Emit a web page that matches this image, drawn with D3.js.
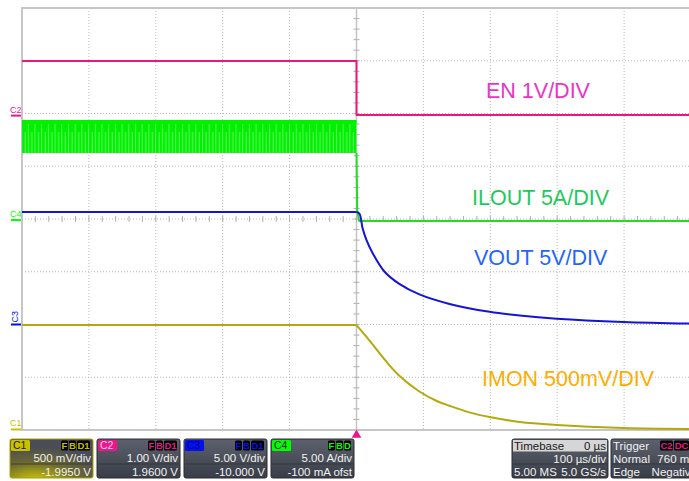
<!DOCTYPE html>
<html>
<head>
<meta charset="utf-8">
<script src="https://cdn.jsdelivr.net/npm/d3@7"></script>
<style>
  body { margin: 0; background: #fff; }
  svg { display: block; font-family: "Liberation Sans", Arial, sans-serif; }
</style>
</head>
<body>
<svg width="689" height="481"></svg>
<script>
// timebase: 100 us/div, trigger at 0
const timeDomain = [-500, 500]

// EN (C2), volts
const enTime = [-500, 0, 0, 500]
const enValue = [1.035, 1.035, 0.01, 0.01]

// ILOUT (C4), amps: ripple envelope before turn-off, trace after
const iloutBandTime = [-500, 0]
const iloutBandHigh = [9.48, 9.48]
const iloutBandLow = [6.36, 6.36]
const iloutTime = [0, 1, 4, 500]
const iloutValue = [6.36, 0.95, -0.1, -0.1]

// VOUT (C3), volts
const voutTime = [-500, 0, 4.5, 9, 15, 24, 42, 64, 94, 139, 199, 244, 299, 399, 500]
const voutValue = [10.66, 10.66, 10.5, 9.15, 8.0, 6.78, 5.0, 3.85, 2.85, 1.95, 1.2, 0.85, 0.55, 0.24, 0.08]

// IMON (C1), volts
const imonTime = [-500, 0, 15, 45, 64, 94, 120, 139, 170, 199, 244, 299, 399, 500]
const imonValue = [0.99, 0.99, 0.877, 0.64, 0.51, 0.36, 0.27, 0.225, 0.16, 0.118, 0.071, 0.043, 0.014, 0.005]

// channel settings
const channelNames = ['C1', 'C2', 'C3', 'C4']
const channelScale = [0.5, 1, 5, 5]
const channelOffset = [-1.995, 1.96, -10, -0.1]
const channelScaleText = ['500 mV/div', '1.00 V/div', '5.00 V/div', '5.00 A/div']
const channelOffsetText = ['-1.9950 V', '1.9600 V', '-10.000 V', '-100 mA ofst']
const channelTags = [['F', 'B', 'D1'], ['F', 'B', 'D1'], ['F', 'B', 'D1'], ['F', 'B', 'D']]

const traceLabels = ['EN 1V/DIV', 'ILOUT 5A/DIV', 'VOUT 5V/DIV', 'IMON 500mV/DIV']

const timebaseText = [['Timebase', '0 µs'], ['', '100 µs/div'], ['5.00 MS', '5.0 GS/s']]
const triggerText = [['Trigger', ''], ['Normal', '760 mV'], ['Edge', 'Negative']]

const traceColor = ['#b3a90c', '#e8187c', '#1414d8', '#22dd22']
const tagColor = ['#c9c100', '#e8188a', '#0010ee', '#00ff00']
const labelColor = ['#e835c8', '#1ec95a', '#1e66ff', '#fbae00']

const svg = d3.select('svg')
const plot = {left: 22, right: 691, top: 8, bottom: 430}
const divX = (plot.right - plot.left) / 10
const divY = (plot.bottom - plot.top) / 8
const cx = plot.left + 5 * divX
const cy = plot.top + 4 * divY

const x = d3.scaleLinear().domain(timeDomain).range([plot.left, plot.right])
const yScales = channelNames.map((c, i) => d3.scaleLinear()
  .domain([-4 * channelScale[i] - channelOffset[i], 4 * channelScale[i] - channelOffset[i]])
  .range([plot.bottom, plot.top]))
const yIMON = yScales[0], yEN = yScales[1], yVOUT = yScales[2], yILOUT = yScales[3]

const defs = svg.append('defs')
const stripe = defs.append('pattern')
  .attr('id', 'ripple').attr('patternUnits', 'userSpaceOnUse')
  .attr('width', 6.7).attr('height', 40)
stripe.append('rect').attr('width', 6.7).attr('height', 40).attr('fill', '#00f000')
stripe.append('rect').attr('x', 1.2).attr('y', 4).attr('width', 0.8).attr('height', 30).attr('fill', '#8ef28e').attr('opacity', 0.8)
stripe.append('rect').attr('x', 4.6).attr('y', 12).attr('width', 0.8).attr('height', 22).attr('fill', '#b0f5b0').attr('opacity', 0.7)

const boxGrad = defs.append('linearGradient').attr('id', 'boxbg').attr('x1', 0).attr('y1', 0).attr('x2', 0).attr('y2', 1)
boxGrad.append('stop').attr('offset', 0).attr('stop-color', '#5d616d')
boxGrad.append('stop').attr('offset', 1).attr('stop-color', '#393d47')
const selGrad = defs.append('radialGradient').attr('id', 'selbg').attr('cx', 0.3).attr('cy', 1.1).attr('r', 0.9)
selGrad.append('stop').attr('offset', 0).attr('stop-color', '#d8d000')
selGrad.append('stop').attr('offset', 0.55).attr('stop-color', '#6e6b30')
selGrad.append('stop').attr('offset', 1).attr('stop-color', '#4a4d55')

// grid
const grid = svg.append('g')
grid.selectAll('line.v').data(d3.range(1, 10)).enter().append('line')
  .attr('x1', d => plot.left + d * divX).attr('x2', d => plot.left + d * divX)
  .attr('y1', plot.top).attr('y2', plot.bottom)
  .attr('stroke', '#b8b8b8').attr('stroke-dasharray', '1,2')
grid.selectAll('line.h').data(d3.range(1, 8)).enter().append('line')
  .attr('y1', d => plot.top + d * divY).attr('y2', d => plot.top + d * divY)
  .attr('x1', plot.left).attr('x2', plot.right)
  .attr('stroke', '#b8b8b8').attr('stroke-dasharray', '1,2')

// centre axes with minor ticks
grid.append('line').attr('x1', cx).attr('x2', cx).attr('y1', plot.top).attr('y2', plot.bottom)
  .attr('stroke', '#c4c4c4').attr('stroke-width', 1.5)
grid.selectAll('line.tv').data(d3.range(0, 41)).enter().append('line')
  .attr('x1', cx - 3).attr('x2', cx + 3)
  .attr('y1', d => plot.top + d * divY / 5).attr('y2', d => plot.top + d * divY / 5)
  .attr('stroke', '#b0b0b0')
grid.selectAll('line.th').data(d3.range(0, 51)).enter().append('line')
  .attr('y1', cy - 3).attr('y2', cy + 3)
  .attr('x1', d => plot.left + d * divX / 5).attr('x2', d => plot.left + d * divX / 5)
  .attr('stroke', '#b0b0b0')

// border
svg.append('rect').attr('x', plot.left).attr('y', plot.top)
  .attr('width', plot.right - plot.left).attr('height', plot.bottom - plot.top)
  .attr('fill', 'none').attr('stroke', '#c6c6c6').attr('stroke-width', 2)

// traces
const traces = svg.append('g').attr('fill', 'none').attr('stroke-width', 2).attr('stroke-linejoin', 'round')

const band = d3.area()
  .x((d, i) => x(iloutBandTime[i]))
  .y0((d, i) => yILOUT(iloutBandLow[i]))
  .y1((d, i) => yILOUT(iloutBandHigh[i]))
traces.append('path').datum(iloutBandTime).attr('d', band).attr('fill', 'url(#ripple)').attr('stroke', 'none')

// flat part drawn straight, the decay after the trigger drawn smooth
function drawTrace (times, values, yScale, color, smooth) {
  const pts = times.map((t, i) => [t, values[i]])
  const straight = d3.line().x(d => x(d[0])).y(d => yScale(d[1]))
  if (!smooth) {
    traces.append('path').datum(pts).attr('d', straight).attr('stroke', color)
    return
  }
  const curved = d3.line().x(d => x(d[0])).y(d => yScale(d[1])).curve(d3.curveCatmullRom.alpha(0.5))
  traces.append('path').datum(pts.filter(d => d[0] <= 0)).attr('d', straight).attr('stroke', color)
  traces.append('path').datum(pts.filter(d => d[0] >= 0)).attr('d', curved).attr('stroke', color)
}
drawTrace(iloutTime, iloutValue, yILOUT, traceColor[3], false)
drawTrace(enTime, enValue, yEN, traceColor[1], false)
drawTrace(voutTime, voutValue, yVOUT, traceColor[2], true)
drawTrace(imonTime, imonValue, yIMON, traceColor[0], true)

// trace labels
const labelPos = [[486, 98], [472, 205], [474, 265], [482, 386]]
svg.append('g').selectAll('text').data(traceLabels).enter().append('text')
  .attr('x', (d, i) => labelPos[i][0]).attr('y', (d, i) => labelPos[i][1])
  .attr('font-size', 21.5).attr('fill', (d, i) => labelColor[i])
  .text(d => d)

// ground markers on the left edge
const markers = svg.append('g')
channelNames.forEach((c, i) => {
  const y0 = yScales[i](0)
  markers.append('line').attr('x1', 11).attr('x2', 21).attr('y1', y0).attr('y2', y0)
    .attr('stroke', tagColor[i]).attr('stroke-width', 2)
  const t = markers.append('text').attr('font-size', 9).attr('fill', tagColor[i]).text(c)
  if (c === 'C3') {
    t.attr('transform', 'translate(18,' + (y0 - 2) + ') rotate(-90)')
  } else {
    t.attr('x', 10).attr('y', y0 - 3)
  }
})

// trigger marker
svg.append('path')
  .attr('d', d3.symbol(d3.symbolTriangle, 40)())
  .attr('transform', 'translate(' + x(0) + ',435)')
  .attr('fill', '#e8188a')

// channel boxes
const boxX = [10, 97, 184, 271]
const boxW = 83
const boxY = 439
const boxH = 39
channelNames.forEach((c, i) => {
  const g = svg.append('g').attr('transform', 'translate(' + boxX[i] + ',' + boxY + ')')
  g.append('rect').attr('width', boxW).attr('height', boxH).attr('rx', 2)
    .attr('fill', i === 0 ? 'url(#selbg)' : 'url(#boxbg)')
    .attr('stroke', i === 0 ? '#a8a000' : '#2a2c33')
  g.append('line').attr('x1', 1).attr('x2', boxW - 1).attr('y1', 25).attr('y2', 25)
    .attr('stroke', '#2b2e36').attr('opacity', 0.7)
  g.append('rect').attr('x', 1).attr('y', 1).attr('width', 19).attr('height', 11).attr('rx', 1.5)
    .attr('fill', tagColor[i])
  g.append('text').attr('x', 3).attr('y', 10).attr('font-size', 10.5)
    .attr('fill', i === 1 ? '#ffd0e8' : (i === 2 ? '#000080' : '#202000'))
    .text(c)
  let tx = boxW - 2
  channelTags[i].slice().reverse().forEach(tag => {
    const w = tag.length > 1 ? 14 : 8
    tx -= w
    g.append('rect').attr('x', tx).attr('y', 1.5).attr('width', w - 1).attr('height', 10).attr('rx', 1.5).attr('fill', '#000')
    g.append('text').attr('x', tx + (w - 1) / 2).attr('y', 10).attr('text-anchor', 'middle')
      .attr('font-size', 9.5).attr('font-weight', 'bold').attr('fill', tagColor[i]).text(tag)
  })
  g.append('text').attr('x', boxW - 2).attr('y', 23).attr('text-anchor', 'end')
    .attr('font-size', 11.5).attr('fill', '#f0f0f0').text(channelScaleText[i])
  g.append('text').attr('x', boxW - 2).attr('y', 37).attr('text-anchor', 'end')
    .attr('font-size', 11.5).attr('fill', '#f0f0f0').text(channelOffsetText[i])
})

// timebase and trigger boxes
function infoBox (bx, bw, rows, lightHeader) {
  const g = svg.append('g').attr('transform', 'translate(' + bx + ',' + boxY + ')')
  g.append('rect').attr('width', bw).attr('height', boxH).attr('rx', 2)
    .attr('fill', 'url(#boxbg)').attr('stroke', '#2a2c33')
  if (lightHeader) {
    g.append('rect').attr('x', 1).attr('y', 1).attr('width', bw - 2).attr('height', 11.5).attr('fill', '#d6d6d6')
  }
  g.append('line').attr('x1', 1).attr('x2', bw - 1).attr('y1', 25).attr('y2', 25)
    .attr('stroke', '#2b2e36').attr('opacity', 0.7)
  rows.forEach((r, k) => {
    const yy = [11, 24, 37][k]
    const col = (k === 0 && lightHeader) ? '#1a1a1a' : '#f0f0f0'
    g.append('text').attr('x', 2).attr('y', yy).attr('font-size', 11.5).attr('fill', col).text(r[0])
    g.append('text').attr('x', bw - 2).attr('y', yy).attr('text-anchor', 'end')
      .attr('font-size', 11.5).attr('fill', col).text(r[1])
  })
  return g
}
infoBox(512, 96, timebaseText, true)
const trig = infoBox(611, 88, triggerText, false)
trig.append('rect').attr('x', 49).attr('y', 1.5).attr('width', 13).attr('height', 10).attr('rx', 1.5).attr('fill', '#000')
trig.append('text').attr('x', 55.5).attr('y', 10).attr('text-anchor', 'middle').attr('font-size', 9.5)
  .attr('font-weight', 'bold').attr('fill', '#e8188a').text('C2')
trig.append('rect').attr('x', 63).attr('y', 1.5).attr('width', 15).attr('height', 10).attr('rx', 1.5).attr('fill', '#000')
trig.append('text').attr('x', 70.5).attr('y', 10).attr('text-anchor', 'middle').attr('font-size', 9.5)
  .attr('font-weight', 'bold').attr('fill', '#e8188a').text('DC')
</script>
</body>
</html>
